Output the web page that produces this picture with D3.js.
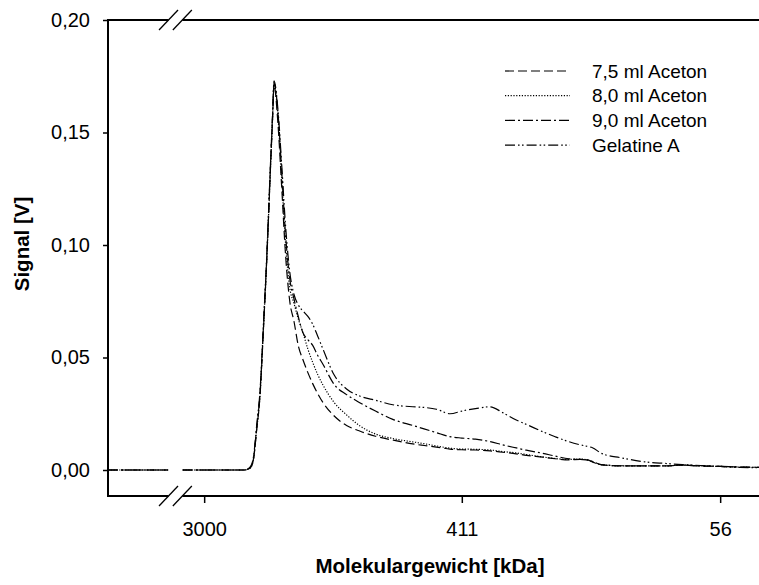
<!DOCTYPE html>
<html>
<head>
<meta charset="utf-8">
<script src="https://cdn.jsdelivr.net/npm/d3@7"></script>
<style>
  html, body { margin: 0; padding: 0; background: #fff; }
  #visualization { width: 759px; height: 585px; }
  text { font-family: "Liberation Sans", Arial, sans-serif; fill: #000; }
</style>
</head>
<body>
<div id="visualization"></div>
<script>
// Molecular weight grid (kDa), shared by all curves
const mw = [6300, 3960, 3750, 3540, 3000, 2500, 2200, 2100, 2050, 2000, 1950, 1900, 1850, 1800, 1770, 1750,
    1700, 1650, 1600, 1550, 1500, 1450, 1400, 1350, 1300, 1250, 1200, 1100, 1000, 900, 800, 700, 600, 550, 500,
    450, 411, 370, 330, 300, 270, 250, 220, 200, 180, 165, 155, 150, 140, 120, 100, 85, 75, 65, 56, 48, 41.5];

// Signal [V] for each sample
const aceton75 = [0, 0, 0, 0, 0, 0, 0, 0.001, 0.005, 0.018, 0.033, 0.062, 0.094, 0.133, 0.156, 0.171,
    0.155, 0.126, 0.095, 0.075, 0.066, 0.055, 0.049, 0.0435, 0.0385, 0.034, 0.030, 0.024, 0.0198, 0.0172, 0.0150, 0.0133, 0.0116, 0.0109, 0.0102,
    0.0093, 0.0090, 0.0089, 0.0085, 0.0079, 0.0072, 0.0065, 0.0057, 0.0050, 0.0045, 0.0047, 0.0044, 0.0036, 0.0023, 0.0018, 0.0018, 0.0018, 0.0022, 0.0018, 0.0016, 0.0013, 0.0012];
const aceton80 = [0, 0, 0, 0, 0, 0, 0, 0.001, 0.005, 0.018, 0.033, 0.062, 0.094, 0.133, 0.156, 0.172,
    0.158, 0.130, 0.100, 0.081, 0.074, 0.067, 0.061, 0.054, 0.048, 0.0425, 0.0378, 0.030, 0.0245, 0.0195, 0.0160, 0.0140, 0.0125, 0.0117, 0.0107,
    0.0097, 0.0093, 0.0092, 0.0089, 0.0082, 0.0076, 0.0069, 0.0058, 0.0051, 0.0047, 0.0049, 0.0044, 0.0036, 0.0024, 0.0018, 0.0018, 0.0018, 0.0022, 0.0018, 0.0016, 0.0013, 0.0012];
const aceton90 = [0, 0, 0, 0, 0, 0, 0, 0.001, 0.005, 0.019, 0.034, 0.063, 0.095, 0.134, 0.157, 0.172,
    0.160, 0.133, 0.104, 0.085, 0.076, 0.068, 0.061, 0.058, 0.0555, 0.051, 0.047, 0.038, 0.0335, 0.0298, 0.0262, 0.0225, 0.0198, 0.0183, 0.0166,
    0.0148, 0.0142, 0.0137, 0.0126, 0.0112, 0.0098, 0.0088, 0.0074, 0.0062, 0.0050, 0.0047, 0.0045, 0.0038, 0.0024, 0.0019, 0.0018, 0.0018, 0.0022, 0.0018, 0.0016, 0.0013, 0.0012];
const gelatineA = [0, 0, 0, 0, 0, 0, 0, 0.0015, 0.006, 0.020, 0.035, 0.064, 0.096, 0.135, 0.158, 0.173,
    0.161, 0.136, 0.108, 0.088, 0.078, 0.0733, 0.0707, 0.0684, 0.0649, 0.0596, 0.0538, 0.0422, 0.036, 0.0328, 0.0310, 0.0290, 0.0281, 0.0278, 0.0270,
    0.0250, 0.0262, 0.0273, 0.0281, 0.0255, 0.0222, 0.0203, 0.0170, 0.0148, 0.0126, 0.0112, 0.0104, 0.0099, 0.0074, 0.0054, 0.0036, 0.0029, 0.0024, 0.0020, 0.0016, 0.0011, 0.0010];

const seriesNames = ['7,5 ml Aceton', '8,0 ml Aceton', '9,0 ml Aceton', 'Gelatine A'];
const seriesValues = [aceton75, aceton80, aceton90, gelatineA];
const xTicks = [3000, 411, 56];
const yTicks = [0, 0.05, 0.10, 0.15, 0.20];
// axis break lies between these molecular weights
const breakRange = [3550, 3950];

document.addEventListener('DOMContentLoaded', function() {
    const width = 759, height = 585;
    const left = 108, top = 20, frameBottom = 496, right = 759;
    const fontFamily = '"Liberation Sans", Arial, sans-serif';

    const svg = d3.select('#visualization').append('svg')
        .attr('width', width)
        .attr('height', height);

    // Scales
    const x = d3.scaleLog().domain([6300, 41.5]).range([left, right]);
    const y = d3.scaleLinear().domain([0, 0.2]).range([470, top]);

    const de = d3.formatLocale({ decimal: ',', thousands: '.', grouping: [3], currency: ['', ''] });

    // Curves
    const dashes = ['9,4', '1.2,1.6', '10,3,2,3', '10,3,1.6,2.4,1.6,3'];
    const line = d3.line()
        .defined(d => d.mw >= breakRange[1] || d.mw <= breakRange[0])
        .x(d => x(d.mw))
        .y(d => y(d.v))
        .curve(d3.curveMonotoneX);

    seriesValues.forEach((vals, i) => {
        const pts = mw.map((m, j) => ({ mw: m, v: vals[j] }));
        svg.append('path')
            .datum(pts)
            .attr('fill', 'none')
            .attr('stroke', '#000')
            .attr('stroke-width', 1.2)
            .attr('stroke-dasharray', dashes[i])
            .attr('d', line);
    });

    // Frame with breaks
    const bx0 = x(breakRange[1]), bx1 = x(breakRange[0]);
    const frame = svg.append('g').attr('stroke', '#000').attr('stroke-width', 2).attr('fill', 'none');
    frame.append('line').attr('x1', left).attr('x2', left).attr('y1', top - 1).attr('y2', frameBottom + 1);
    [top, frameBottom].forEach(yy => {
        frame.append('line').attr('x1', left).attr('x2', bx0).attr('y1', yy).attr('y2', yy);
        frame.append('line').attr('x1', bx1).attr('x2', right).attr('y1', yy).attr('y2', yy);
        [bx0, bx1].forEach(bx => {
            frame.append('line')
                .attr('stroke-width', 1.3)
                .attr('x1', bx - 9.5).attr('y1', yy + 10)
                .attr('x2', bx + 9.5).attr('y2', yy - 10);
        });
    });

    // Y axis
    const yAxis = svg.append('g')
        .attr('transform', `translate(${left},0)`)
        .call(d3.axisLeft(y).tickValues(yTicks).tickSize(5).tickPadding(13).tickFormat(de.format('.2f')));
    yAxis.select('.domain').remove();
    yAxis.selectAll('line').attr('stroke-width', 1.5);
    yAxis.selectAll('text').attr('font-size', 20).attr('font-family', fontFamily);

    // X axis
    const xAxis = svg.append('g')
        .attr('transform', `translate(0,${frameBottom})`)
        .call(d3.axisBottom(x).tickValues(xTicks).tickSize(7).tickPadding(19).tickFormat(d3.format('d')));
    xAxis.select('.domain').remove();
    xAxis.selectAll('line').attr('stroke-width', 1.5);
    xAxis.selectAll('text').attr('font-size', 20).attr('font-family', fontFamily);

    // Axis titles
    svg.append('text')
        .attr('x', 430).attr('y', 573)
        .attr('text-anchor', 'middle')
        .attr('font-size', 20.5).attr('font-weight', 'bold')
        .text('Molekulargewicht [kDa]');
    svg.append('text')
        .attr('transform', 'translate(29,244) rotate(-90)')
        .attr('text-anchor', 'middle')
        .attr('font-size', 20.5).attr('font-weight', 'bold')
        .text('Signal [V]');

    // Legend
    const legend = svg.append('g').attr('transform', 'translate(505,71)');
    seriesNames.forEach((name, i) => {
        const row = legend.append('g').attr('transform', `translate(0,${i * 24.7})`);
        row.append('line')
            .attr('x1', 0).attr('x2', 65)
            .attr('stroke', '#000').attr('stroke-width', 1.2)
            .attr('stroke-dasharray', dashes[i]);
        row.append('text')
            .attr('x', 87).attr('dy', '0.35em')
            .attr('font-size', 19)
            .text(name);
    });
});
</script>
</body>
</html>
